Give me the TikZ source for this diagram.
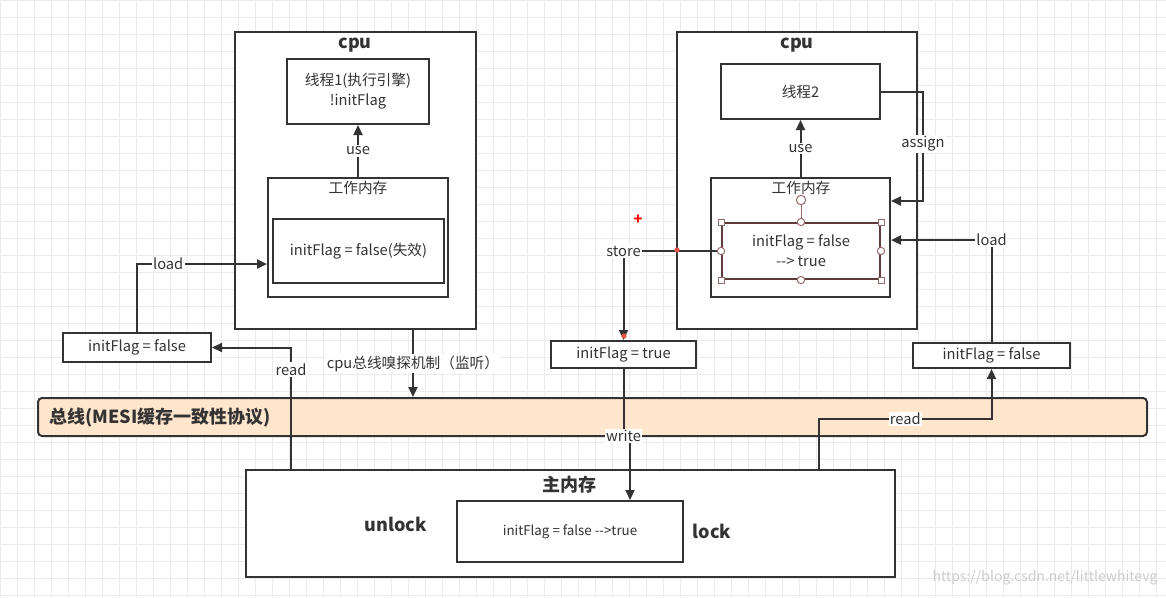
\documentclass[tikz,border=0pt]{standalone}
\usepackage{fontspec}
\setmainfont{Noto Sans CJK SC}
\usetikzlibrary{arrows.meta}
\definecolor{linec}{HTML}{333333}
\definecolor{busfill}{HTML}{FFE6CC}
\definecolor{gridc}{HTML}{EBEBEB}
\definecolor{selc}{HTML}{5E3C3C}
\definecolor{handc}{HTML}{9A6A6A}
\definecolor{dotc}{HTML}{E0554A}
\tikzset{every picture/.style={line width=0.75pt}}
\tikzset{
  box/.style={draw=linec, line width=1.5pt, fill=white, inner sep=0pt, text=linec, font=\fontsize{11}{15}\selectfont, align=center},
  txt/.style={text=linec, font=\fontsize{11}{13}\selectfont, inner sep=0.75pt},
  ttl/.style={text=linec, font=\fontsize{13.5}{16}\selectfont\bfseries, inner sep=0.75pt},
  lbl/.style={fill=white, text=linec, font=\fontsize{11}{13}\selectfont, inner sep=1pt},
  conn/.style={draw=linec, line width=1.5pt, -{Triangle[length=7.5pt,width=6.75pt]}},
  hsq/.style={draw=handc, fill=white, line width=0.75pt, minimum size=4.5pt, inner sep=0pt},
  hci/.style={draw=handc, fill=white, line width=0.75pt, circle, minimum size=5.5pt, inner sep=0pt},
}

\begin{document}
\begin{tikzpicture}[x=0.75pt,y=0.75pt,yscale=-1,xscale=1]
\useasboundingbox (0,0) rectangle (1166,597);

%Grid
\foreach \gx in {0,17,...,1166} \draw[gridc] (\gx,0) -- (\gx,597);
\foreach \gy in {0,17,...,597} \draw[gridc] (0,\gy) -- (1166,\gy);

%Shape: Rectangle
\node[box, minimum width=180.75pt, minimum height=222.75pt] (cpuL) at (355.5,180.5) {};
\node[box, minimum width=180pt, minimum height=222.75pt] (cpuR) at (797,180.5) {};
% Text Node
\node[ttl] (cpuLt) at (355,45) {cpu};
\node[ttl] (cpuRt) at (797,45) {cpu};

%Shape: Rectangle
\node[box, minimum width=106.5pt, minimum height=48.75pt] (thr1) at (358,91.5) {线程1(执行引擎)\\!initFlag};
\node[box, minimum width=119.25pt, minimum height=41.25pt] (thr2) at (800.5,91.5) {线程2};

%Shape: Rectangle
\node[box, minimum width=135pt, minimum height=89.25pt] (wm1) at (358,237.5) {};
\node[box, minimum width=134.25pt, minimum height=89.25pt] (wm2) at (800.5,237.5) {};
% Text Node
\node[txt] (wm1t) at (358,188) {工作内存};
\node[txt] (wm2t) at (801,188) {工作内存};

%Shape: Rectangle
\node[box, minimum width=128.25pt, minimum height=48pt] (var1) at (358.5,251) {initFlag = false(失效)};
\node[box, draw=selc, minimum width=118.5pt, minimum height=42pt] (var2) at (801,251) {initFlag = false\\{-}{-}> true};

%Shape: Rectangle
\node[box, minimum width=111pt, minimum height=21.75pt] (flagL) at (137,347.5) {initFlag = false};
\node[box, minimum width=108.75pt, minimum height=20.25pt] (flagM) at (623.5,354.5) {initFlag = true};
\node[box, minimum width=117.75pt, minimum height=18.75pt] (flagR) at (991.5,355.5) {initFlag = false};

%Shape: Rounded Rect
\node[box, fill=busfill, rounded corners=3pt, minimum width=831.75pt, minimum height=28.5pt] (bus) at (592.5,417) {};
\node[ttl, anchor=west] (bust) at (48,418) {总线(MESI缓存一致性协议)};

%Shape: Rectangle
\node[box, minimum width=486.75pt, minimum height=80.25pt] (mainM) at (570.5,523.5) {};
\node[box, font=\fontsize{10}{12}\selectfont, minimum width=169.5pt, minimum height=45.75pt] (varM) at (570,531.5) {initFlag = false {-}{-}>true};
% Text Node
\node[ttl] (mainMt) at (569,485) {主内存};
\node[ttl] (unlockt) at (396,524) {unlock};
\node[ttl] (lockt) at (712,531) {lock};

%Straight Lines
\draw[conn] (wm1.north) -- node[lbl] {use} (thr1.south);
\draw[conn] (wm2.north) -- node[lbl] {use} (thr2.south);
\draw[conn] (flagL.north) |- node[lbl, pos=0.62] {load} ([yshift=19.9pt]wm1.west);
\draw[conn] ([xshift=34.5pt]mainM.north west) |- node[lbl, pos=0.41] {read} (flagL.east);
\draw[conn] ([xshift=43.1pt]cpuL.south) -- node[lbl] {cpu总线嗅探机制（监听）} ([xshift=43.1pt]cpuL.south |- bus.north);
\draw[conn] (thr2.east) -- ++(42,0) |- node[lbl, pos=0.24] {assign} ([yshift=-27.4pt]wm2.east);
\draw[conn] (flagR.north) |- node[lbl, pos=0.5] {load} ([yshift=1.9pt]wm2.east);
\draw[conn] (var2.west) -| node[lbl, pos=0.5] {store} (flagM.north);
\draw[conn] (flagM.south) -- ++(0,67) node[lbl] {write} -| ([xshift=45pt]varM.north);
\draw[conn] ([xshift=186.4pt]mainM.north) -- ++(0,-50) -| node[lbl, pos=0.25] {read} (flagR.south);

%Selection handles
\node[hci, minimum size=7pt] (rot) at (801,200) {};
\draw[handc] (rot) -- (var2.north);
\node[hsq] (hnw) at (var2.north west) {};
\node[hsq] (hne) at (var2.north east) {};
\node[hsq] (hsw) at (var2.south west) {};
\node[hsq] (hse) at (var2.south east) {};
\node[hci] (hn) at (var2.north) {};
\node[hci] (hs) at (var2.south) {};
\node[hci] (hw) at (var2.west) {};
\node[hci] (he) at (var2.east) {};
\node[circle, fill=dotc, minimum size=4pt, inner sep=0pt] (rd1) at (677,250) {};
\node[circle, fill=dotc, minimum size=4pt, inner sep=0pt] (rd2) at (624,336) {};
% Text Node
\node[text=red, font=\fontsize{11}{13}\selectfont\bfseries, inner sep=0pt] (plus) at (638,220) {+};
\node[text=gray!40, font=\fontsize{10.5}{12}\selectfont, inner sep=0pt] (watermark) at (1045,578) {https://blog.csdn.net/littlewhitevg};

\end{tikzpicture}
\end{document}
